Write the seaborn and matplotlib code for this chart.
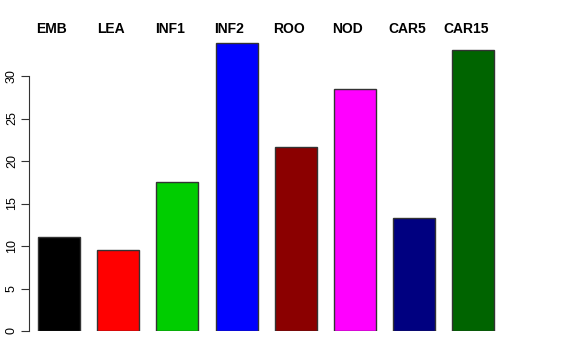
import pandas as pd
import matplotlib
matplotlib.use("Agg")
import matplotlib.pyplot as plt
import seaborn as sns

categories = ["EMB", "LEA", "INF1", "INF2", "ROO", "NOD", "CAR5", "CAR15"]
values = [11.05, 9.5, 17.5, 33.9, 21.6, 28.5, 13.3, 33.05]
colors = ["#000000", "#FF0000", "#00CD00", "#0000FF", "#8B0000", "#FF00FF", "#000080", "#006400"]
yticks = [0, 5, 10, 15, 20, 25, 30]

df = pd.DataFrame({"cat": categories, "val": values})

sns.set_style("white")
plt.rcParams["font.family"] = ["Liberation Sans", "DejaVu Sans"]
plt.rcParams["text.color"] = "black"
plt.rcParams["ytick.color"] = "black"

fig = plt.figure(figsize=(5.76, 3.6), dpi=100)
# axes placed in pixels: left 29, right 510, bottom y=331, top y=40
ax = fig.add_axes([29 / 576, (360 - 331) / 360, (510 - 29) / 576, (331 - 40) / 360])

sns.barplot(data=df, x="cat", y="val", hue="cat", palette=colors, width=0.71,
            saturation=1, edgecolor="#333333", linewidth=1, legend=False, ax=ax)

ax.set_xlim(-0.507, 7.62)
ax.set_ylim(0, 34.24)
ax.set_xlabel("")
ax.set_ylabel("")
ax.set_xticks([])
ax.set_yticks(yticks)
ax.set_yticklabels([str(t) for t in yticks], rotation=90, va="center", fontsize=9,
                   color="black")
ax.tick_params(axis="y", length=6, width=0.8, pad=2, left=True, color="#333333")

for s in ["top", "right", "bottom"]:
    ax.spines[s].set_visible(False)
ax.spines["left"].set_bounds(0, 30)
ax.spines["left"].set_color("#333333")
ax.spines["left"].set_linewidth(0.8)

for i, c in enumerate(categories):
    ax.text(i - 0.12, 35.5, c, ha="center", va="center", fontsize=10,
            fontweight="bold", color="black", clip_on=False)

fig.savefig("out.png", dpi=100)
